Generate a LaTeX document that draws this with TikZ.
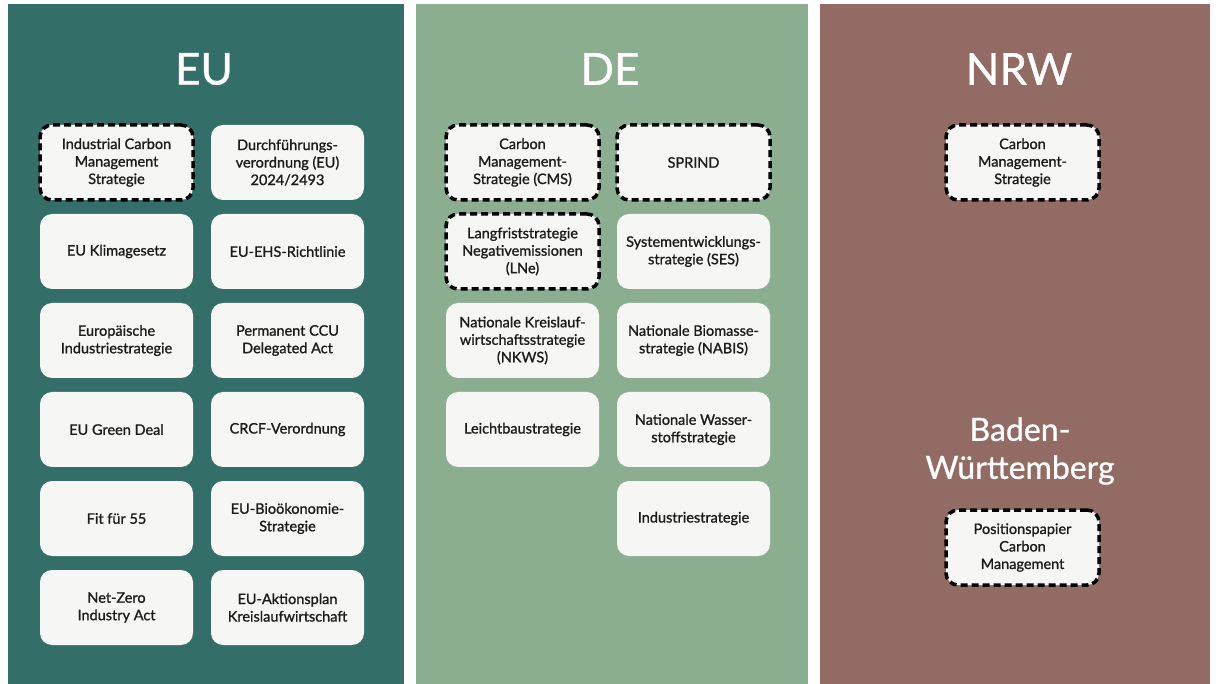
\documentclass[tikz,border=0pt]{standalone}
\usepackage{fontspec}
\setmainfont{Lato}
\newfontfamily\itemfont{Lato}[FakeBold=1.2]
\newfontfamily\headfont{Lato}[FakeBold=0.8]
\usetikzlibrary{positioning}

\definecolor{eucol}{HTML}{346E68}
\definecolor{decol}{HTML}{8BAE91}
\definecolor{nrwcol}{HTML}{936B65}
\definecolor{boxcol}{HTML}{F6F6F4}
\definecolor{inkcol}{HTML}{1C1C1C}

\begin{document}
\begin{tikzpicture}
    [x=1pt,y=-1pt,
    title/.style={text=white,font=\headfont\fontsize{44}{44}\selectfont},
    subtitle/.style={text=white,font=\headfont\fontsize{32}{38}\selectfont,align=center},
    item/.style={rectangle,rounded corners=12pt,fill=boxcol,text=inkcol,
        minimum width=153pt,minimum height=75pt,align=center,inner sep=2pt,
        font=\itemfont\fontsize{14.5}{17.5}\selectfont},
    focus/.style={item,draw=black,line width=3.5pt,dash pattern=on 7pt off 4pt}]
    \useasboundingbox (0,0) rectangle (1216,684);
    \fill[white] (0,0) rectangle (1216,684);
    % panels
    \fill[eucol] (8,4) rectangle (404,684);
    \fill[decol] (416,4) rectangle (808,684);
    \fill[nrwcol] (820,4) rectangle (1210,684);
    % EU
    \node (eu) at (204,69) [title] {EU};
    \node (icms) at (116.5,162.5) [focus] {Industrial Carbon\\Management\\Strategie};
    \node (dvo) at (287.5,162.5) [item] {Durchführungs-\\verordnung (EU)\\2024/2493};
    \node (klima) at (116.5,251.5) [item] {EU Klimagesetz};
    \node (ehs) at (287.5,251.5) [item] {EU-EHS-Richtlinie};
    \node (euind) at (116.5,340.5) [item] {Europäische\\Industriestrategie};
    \node (ccu) at (287.5,340.5) [item] {Permanent CCU\\Delegated Act};
    \node (deal) at (116.5,429.5) [item] {EU Green Deal};
    \node (crcf) at (287.5,429.5) [item] {CRCF-Verordnung};
    \node (fit) at (116.5,518.5) [item] {Fit für 55};
    \node (bio) at (287.5,518.5) [item] {EU-Bioökonomie-\\Strategie};
    \node (nzia) at (116.5,607.5) [item] {Net-Zero\\Industry Act};
    \node (kreis) at (287.5,607.5) [item] {EU-Aktionsplan\\Kreislaufwirtschaft};
    % DE
    \node (de) at (610,69) [title] {DE};
    \node (cms) at (522.5,162.5) [focus] {Carbon\\Management-\\Strategie (CMS)};
    \node (sprind) at (693.5,162.5) [focus] {SPRIND};
    \node (lne) at (522.5,251.5) [focus] {Langfriststrategie\\Negativemissionen\\(LNe)};
    \node (ses) at (693.5,251.5) [item] {Systementwicklungs-\\strategie (SES)};
    \node (nkws) at (522.5,340.5) [item] {Nationale Kreislauf-\\wirtschaftsstrategie\\(NKWS)};
    \node (nabis) at (693.5,340.5) [item] {Nationale Biomasse-\\strategie (NABIS)};
    \node (leicht) at (522.5,429.5) [item] {Leichtbaustrategie};
    \node (h2) at (693.5,429.5) [item] {Nationale Wasser-\\stoffstrategie};
    \node (deind) at (693.5,518.5) [item] {Industriestrategie};
    % NRW und BW
    \node (nrw) at (1019,69) [title] {NRW};
    \node (nrwcms) at (1022.5,162.5) [focus] {Carbon\\Management-\\Strategie};
    \node (bw) at (1020,451) [subtitle] {Baden-\\Württemberg};
    \node (bwpos) at (1022.5,547.5) [focus] {Positionspapier\\Carbon\\Management};
\end{tikzpicture}
\end{document}
